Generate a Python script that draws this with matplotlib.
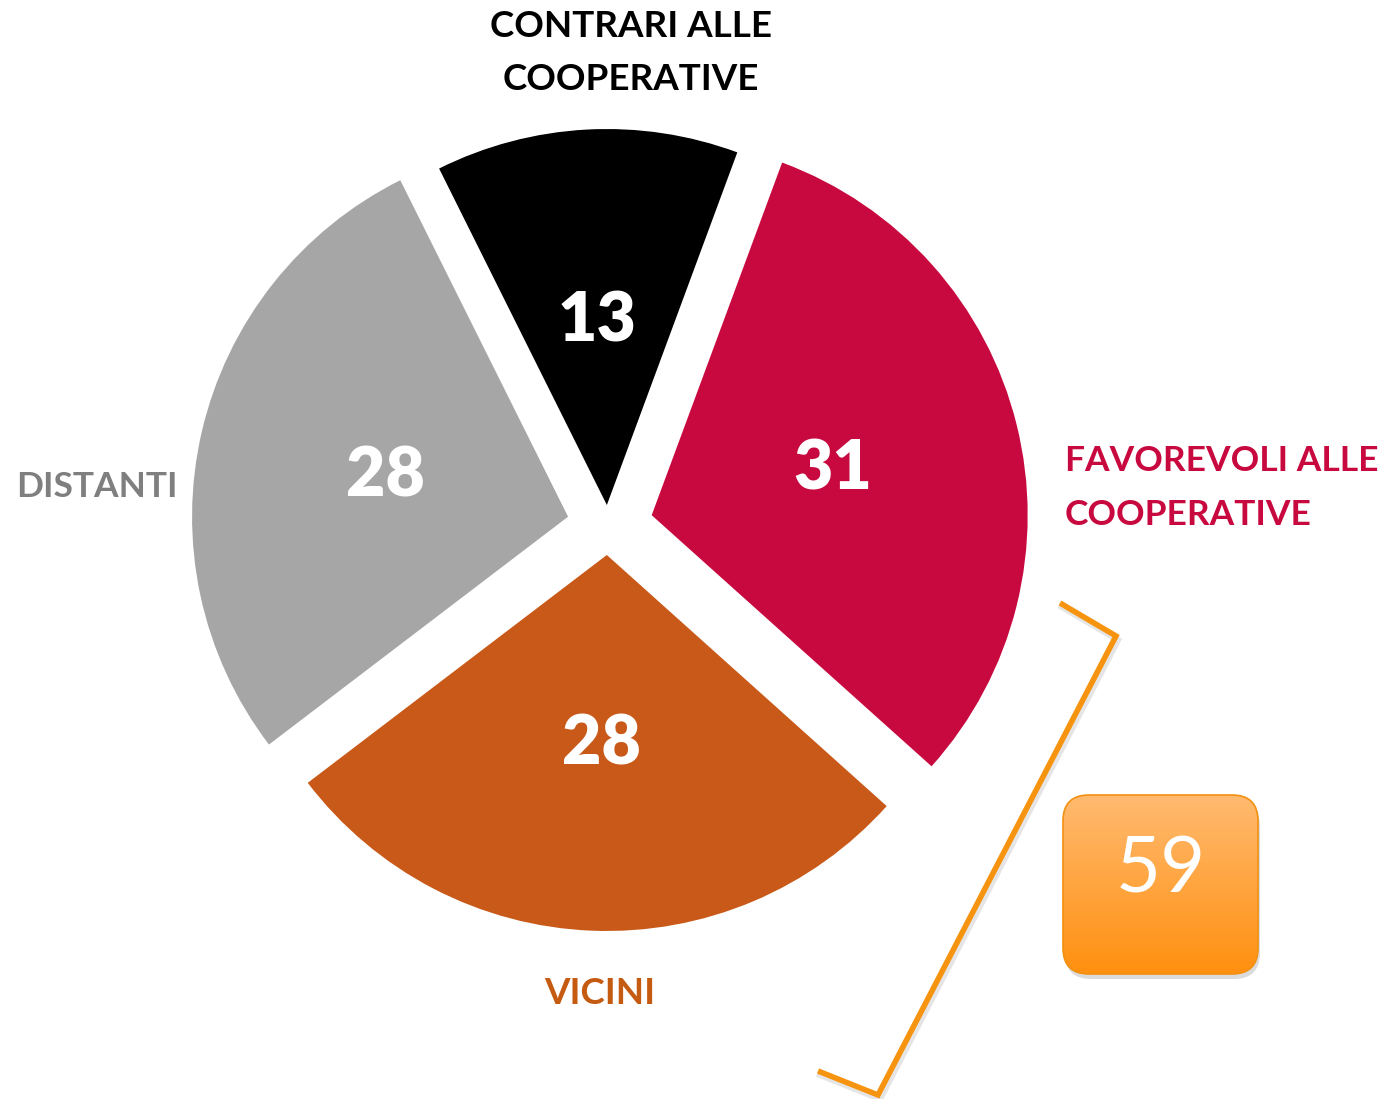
import numpy as np
import matplotlib
matplotlib.use("Agg")
import matplotlib.pyplot as plt
from matplotlib.patches import FancyBboxPatch

# ---- data ----
categories = ["CONTRARI ALLE\nCOOPERATIVE", "FAVOREVOLI ALLE\nCOOPERATIVE", "VICINI", "DISTANTI"]
values = [13, 31, 28, 28]
colors = ["#000000", "#C8093F", "#C85918", "#A6A6A6"]
label_colors = ["#000000", "#C8093F", "#C55A11", "#7F7F7F"]
summary_value = values[1] + values[2]  # 59

W, H = 1393, 1099
fig = plt.figure(figsize=(W / 100, H / 100), dpi=100)
ax = fig.add_axes([0, 0, 1, 1])

def Y(y):
    return H - y

FONT = ["Lato", "DejaVu Sans"]

center = (608, Y(526))
radius = 376
explode = [21, 45, 29, 41]
wedges, _ = ax.pie(values, colors=colors, startangle=116.5, counterclock=False,
                   explode=explode, radius=radius, center=center,
                   wedgeprops=dict(linewidth=0))

# value labels inside slices
val_pos = [(597, 322), (833, 470), (601, 745), (385, 477)]
for v, (x, y) in zip(values, val_pos):
    ax.text(x, Y(y), str(v), color="white", fontsize=49, fontweight="heavy",
            family=FONT, ha="center", va="center")

# category labels
ax.text(631, Y(53), categories[0], color=label_colors[0], fontsize=26.5, fontweight="bold",
        family=FONT, ha="center", va="center", linespacing=1.75)
ax.text(1065, Y(488), categories[1], color=label_colors[1], fontsize=25.5, fontweight="bold",
        family=FONT, ha="left", va="center", linespacing=1.85)
ax.text(600, Y(994), categories[2], color=label_colors[2], fontsize=26.5, fontweight="bold",
        family=FONT, ha="center", va="center")
ax.text(97, Y(487), categories[3], color=label_colors[3], fontsize=25.5, fontweight="bold",
        family=FONT, ha="center", va="center")

# bracket
bx = [1060, 1116, 878, 818]
by = [603, 636, 1095, 1071]
ax.plot([x + 2 for x in bx], [Y(y) - 4 for y in by], color="#cccccc", lw=4.5, alpha=0.5,
        solid_joinstyle="miter", zorder=3)
ax.plot(bx, [Y(y) for y in by], color="#F7940F", lw=4.0, solid_joinstyle="miter",
        solid_capstyle="butt", zorder=4)

# summary box with gradient
x0, y0, x1, y1 = 1063, 795, 1258, 974
shadow = FancyBboxPatch((x0 + 2, Y(y1) - 5), x1 - x0, y1 - y0,
                        boxstyle="round,pad=0,rounding_size=26",
                        fc="#999999", ec="none", alpha=0.35, zorder=4)
ax.add_patch(shadow)
box = FancyBboxPatch((x0, Y(y1)), x1 - x0, y1 - y0,
                     boxstyle="round,pad=0,rounding_size=26",
                     fc="none", ec="#F29010", lw=1.2, zorder=6)
ax.add_patch(box)
top = np.array([255, 186, 112]) / 255
bot = np.array([255, 144, 16]) / 255
t = np.linspace(0, 1, 256)[:, None]
grad = (top[None, :] * (1 - t) + bot[None, :] * t)[:, None, :]
im = ax.imshow(grad, extent=(x0, x1, Y(y1), Y(y0)), origin="upper", aspect="auto", zorder=5)
im.set_clip_path(box)
ax.text((x0 + x1) / 2, Y(871), str(summary_value), color="white", fontsize=56,
        family=FONT, ha="center", va="center", zorder=7)

ax.set_xlim(0, W)
ax.set_ylim(0, H)
ax.set_aspect("auto")
ax.axis("off")
fig.savefig("out.png", dpi=100, facecolor="white")
